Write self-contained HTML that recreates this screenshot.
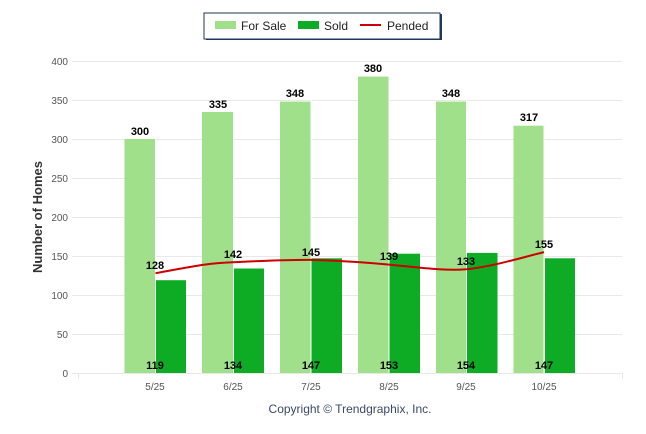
<!DOCTYPE html>
<html><head><style>body{margin:0;background:#fff}svg{display:block}</style></head><body>
<svg width="646" height="434" xmlns="http://www.w3.org/2000/svg" font-family="Liberation Sans, sans-serif">
<rect x="206" y="14" width="236" height="26" fill="#223a5e"/>
<rect x="204" y="13" width="236" height="26" fill="#fff" stroke="#1f3457" stroke-width="1"/>
<rect x="215" y="21" width="21" height="8" fill="#a0e08a"/>
<text x="241" y="30" font-size="12" fill="#222">For Sale</text>
<rect x="298" y="21" width="21" height="8" fill="#0eab25"/>
<text x="324" y="30" font-size="12" fill="#222">Sold</text>
<rect x="360" y="24" width="21" height="2" fill="#cc0000"/>
<text x="387" y="30" font-size="12" fill="#222">Pended</text>
<g stroke="#e8e8e8" stroke-width="1">
<line x1="72" y1="61.5" x2="622" y2="61.5"/><line x1="72" y1="100.5" x2="622" y2="100.5"/>
<line x1="72" y1="139.5" x2="622" y2="139.5"/><line x1="72" y1="178.5" x2="622" y2="178.5"/>
<line x1="72" y1="217.5" x2="622" y2="217.5"/><line x1="72" y1="256.5" x2="622" y2="256.5"/>
<line x1="72" y1="295.5" x2="622" y2="295.5"/><line x1="72" y1="334.5" x2="622" y2="334.5"/>
<line x1="72" y1="373.5" x2="622" y2="373.5"/>
<line x1="78.5" y1="373" x2="78.5" y2="379"/><line x1="622.5" y1="373" x2="622.5" y2="379"/>
</g>
<g font-size="10" fill="#555" text-anchor="end">
<text x="68" y="65">400</text><text x="68" y="104">350</text><text x="68" y="143">300</text>
<text x="68" y="182">250</text><text x="68" y="221">200</text><text x="68" y="260">150</text>
<text x="68" y="299">100</text><text x="68" y="338">50</text><text x="68" y="377">0</text>
</g>
<text transform="translate(42,217) rotate(-90)" font-size="13" font-weight="bold" fill="#333" text-anchor="middle">Number of Homes</text>
<g fill="#a0e08a">
<rect x="124.5" y="139" width="30.5" height="234"/><rect x="202" y="112" width="31" height="261"/>
<rect x="280" y="101.6" width="30.5" height="271.4"/><rect x="358" y="76.6" width="30.5" height="296.4"/>
<rect x="436" y="101.6" width="30.5" height="271.4"/><rect x="513.5" y="125.7" width="30.5" height="247.3"/>
</g>
<g fill="#0eab25">
<rect x="156" y="280.2" width="30" height="92.8"/><rect x="234" y="268.5" width="30" height="104.5"/>
<rect x="311.5" y="258.3" width="30.5" height="114.7"/><rect x="389.5" y="253.7" width="30.5" height="119.3"/>
<rect x="467" y="252.9" width="30.5" height="120.1"/><rect x="545" y="258.3" width="30" height="114.7"/>
</g>
<g stroke="#fff" stroke-width="1">
<line x1="155.5" y1="130" x2="155.5" y2="373"/><line x1="233.5" y1="110" x2="233.5" y2="373"/>
<line x1="311" y1="100" x2="311" y2="373"/><line x1="389" y1="75" x2="389" y2="373"/>
<line x1="466.5" y1="100" x2="466.5" y2="373"/><line x1="544" y1="120" x2="544" y2="373"/>
</g>
<path d="M155.5,273.2 C185,268 205,263 233,262.2 C260,261 290,259.5 311,259.9 C340,260.5 365,262.5 389,264.6 C420,267.5 445,271 466.5,269.3 C495,266 520,258 544,252.1" fill="none" stroke="#cc0000" stroke-width="2"/>
<g font-size="11" font-weight="bold" fill="#000" text-anchor="middle">
<text x="140" y="135">300</text><text x="218" y="108">335</text><text x="295" y="97">348</text>
<text x="373" y="72">380</text><text x="451" y="97">348</text><text x="529" y="121">317</text>
<text x="155" y="269">128</text><text x="233" y="258">142</text><text x="311" y="256">145</text>
<text x="389" y="260">139</text><text x="466" y="265">133</text><text x="544" y="248">155</text>
<text x="155" y="369">119</text><text x="233" y="369">134</text><text x="311" y="369">147</text>
<text x="389" y="369">153</text><text x="466" y="369">154</text><text x="544" y="369">147</text>
</g>
<g font-size="10" fill="#555" text-anchor="middle">
<text x="155" y="390">5/25</text><text x="233" y="390">6/25</text><text x="311" y="390">7/25</text>
<text x="389" y="390">8/25</text><text x="466" y="390">9/25</text><text x="544" y="390">10/25</text>
</g>
<text x="350" y="413" font-size="12" fill="#3a4a66" text-anchor="middle">Copyright © Trendgraphix, Inc.</text>
</svg>
</body></html>
